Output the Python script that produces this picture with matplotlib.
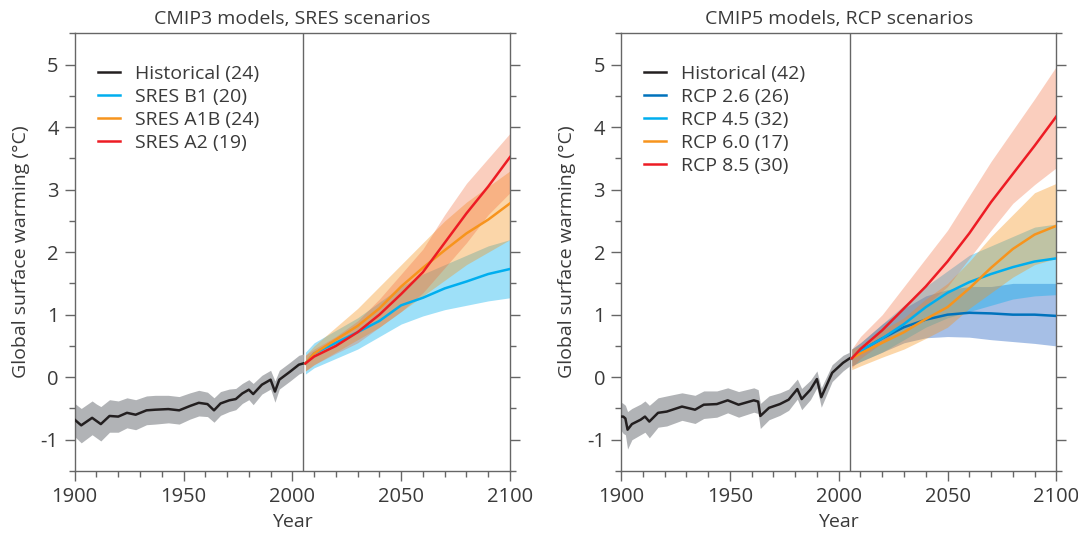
import matplotlib
matplotlib.use("Agg")
import matplotlib.pyplot as plt
from matplotlib.ticker import MultipleLocator

plt.rcParams['font.family'] = ['Open Sans', 'DejaVu Sans']
plt.rcParams['axes.unicode_minus'] = False

text_col = '#3a3a3a'
axis_col = '#666666'

# ---- CMIP3 (left panel) ----
hist3_years = [1900, 1903, 1908, 1910, 1912, 1916, 1920, 1924, 1928, 1933, 1937, 1943, 1948, 1953, 1957,
               1961, 1964, 1967, 1971, 1974, 1977, 1980, 1982, 1986, 1990, 1992, 1994, 1999, 2003, 2005]
hist3_mean = [-0.68, -0.77, -0.65, -0.70, -0.75, -0.62, -0.63, -0.57, -0.60, -0.53, -0.52, -0.51, -0.53, -0.46, -0.41,
              -0.43, -0.53, -0.42, -0.37, -0.35, -0.26, -0.20, -0.27, -0.12, -0.04, -0.23, -0.04, 0.09, 0.20, 0.22]
hist3_hi = [-0.42, -0.50, -0.38, -0.43, -0.47, -0.36, -0.38, -0.33, -0.36, -0.30, -0.29, -0.29, -0.31, -0.25, -0.21,
            -0.24, -0.33, -0.23, -0.19, -0.18, -0.10, -0.04, -0.10, 0.03, 0.11, -0.06, 0.11, 0.24, 0.35, 0.37]
hist3_lo = [-0.95, -1.05, -0.92, -0.97, -1.02, -0.88, -0.88, -0.81, -0.84, -0.76, -0.75, -0.73, -0.75, -0.67, -0.62,
            -0.63, -0.72, -0.61, -0.55, -0.52, -0.42, -0.36, -0.44, -0.27, -0.19, -0.40, -0.19, -0.06, 0.05, 0.08]

proj_years = [2006, 2010, 2020, 2030, 2040, 2050, 2060, 2070, 2080, 2090, 2100]

b1_mean = [0.22, 0.38, 0.55, 0.72, 0.90, 1.15, 1.27, 1.42, 1.53, 1.65, 1.73]
b1_hi = [0.40, 0.55, 0.75, 0.95, 1.20, 1.45, 1.65, 1.80, 1.95, 2.10, 2.20]
b1_lo = [0.05, 0.15, 0.30, 0.45, 0.65, 0.85, 0.98, 1.08, 1.15, 1.22, 1.27]

a1b_mean = [0.22, 0.38, 0.60, 0.82, 1.10, 1.45, 1.75, 2.03, 2.30, 2.52, 2.78]
a1b_hi = [0.35, 0.50, 0.80, 1.10, 1.45, 1.80, 2.15, 2.50, 2.80, 3.05, 3.30]
a1b_lo = [0.10, 0.20, 0.40, 0.60, 0.80, 1.05, 1.30, 1.55, 1.80, 2.00, 2.20]

a2_mean = [0.22, 0.33, 0.50, 0.72, 1.00, 1.33, 1.68, 2.15, 2.62, 3.05, 3.52]
a2_hi = [0.35, 0.45, 0.65, 0.90, 1.25, 1.65, 2.05, 2.60, 3.10, 3.50, 3.90]
a2_lo = [0.10, 0.20, 0.38, 0.55, 0.80, 1.05, 1.35, 1.75, 2.15, 2.60, 2.95]

# ---- CMIP5 (right panel) ----
hist5_years = [1900, 1901, 1902, 1903, 1905, 1909, 1911, 1913, 1917, 1921, 1928, 1934, 1938, 1944, 1949,
               1954, 1961, 1963, 1964, 1968, 1973, 1977, 1981, 1983, 1987, 1990, 1992, 1997, 2002, 2005]
hist5_mean = [-0.63, -0.63, -0.66, -0.84, -0.75, -0.68, -0.63, -0.71, -0.57, -0.55, -0.47, -0.52, -0.44, -0.43, -0.37,
              -0.44, -0.37, -0.39, -0.62, -0.49, -0.43, -0.36, -0.19, -0.35, -0.20, -0.03, -0.32, 0.07, 0.23, 0.30]
hist5_hi = [-0.40, -0.42, -0.45, -0.55, -0.50, -0.43, -0.38, -0.45, -0.33, -0.30, -0.25, -0.29, -0.22, -0.22, -0.17,
            -0.23, -0.17, -0.20, -0.42, -0.30, -0.25, -0.19, -0.03, -0.18, -0.05, 0.10, -0.17, 0.20, 0.35, 0.40]
hist5_lo = [-0.85, -0.90, -0.92, -1.15, -1.00, -0.92, -0.88, -0.97, -0.80, -0.78, -0.69, -0.74, -0.66, -0.64, -0.57,
            -0.64, -0.56, -0.58, -0.82, -0.68, -0.61, -0.53, -0.35, -0.52, -0.36, -0.17, -0.48, -0.07, 0.10, 0.18]

rcp26_mean = [0.30, 0.42, 0.62, 0.80, 0.92, 1.00, 1.03, 1.02, 1.00, 1.00, 0.98]
rcp26_hi = [0.45, 0.55, 0.85, 1.10, 1.30, 1.40, 1.45, 1.45, 1.50, 1.50, 1.50]
rcp26_lo = [0.18, 0.25, 0.40, 0.55, 0.63, 0.65, 0.64, 0.60, 0.57, 0.54, 0.50]

rcp45_mean = [0.30, 0.42, 0.62, 0.85, 1.12, 1.35, 1.52, 1.65, 1.76, 1.85, 1.90]
rcp45_hi = [0.45, 0.55, 0.85, 1.15, 1.45, 1.70, 1.95, 2.10, 2.25, 2.40, 2.45]
rcp45_lo = [0.18, 0.25, 0.40, 0.60, 0.80, 0.95, 1.05, 1.15, 1.25, 1.30, 1.32]

rcp60_mean = [0.30, 0.38, 0.55, 0.72, 0.93, 1.12, 1.42, 1.75, 2.05, 2.28, 2.42]
rcp60_hi = [0.45, 0.50, 0.75, 0.95, 1.25, 1.50, 1.85, 2.25, 2.60, 2.95, 3.10]
rcp60_lo = [0.12, 0.18, 0.32, 0.45, 0.62, 0.80, 1.10, 1.35, 1.60, 1.80, 1.90]

rcp85_mean = [0.30, 0.45, 0.75, 1.10, 1.45, 1.85, 2.30, 2.80, 3.25, 3.70, 4.17]
rcp85_hi = [0.45, 0.65, 1.00, 1.45, 1.90, 2.35, 2.90, 3.45, 3.95, 4.45, 4.97]
rcp85_lo = [0.15, 0.30, 0.55, 0.85, 1.15, 1.45, 1.90, 2.35, 2.78, 3.08, 3.35]

black = '#231f20'
cyan = '#00aeef'
orange = '#f7941d'
red = '#ed1c24'
blue = '#0072bc'

fig = plt.figure(figsize=(10.78, 5.40), dpi=100)
ax1 = fig.add_axes([0.0693, 0.1278, 0.4038, 0.8106])
ax2 = fig.add_axes([0.5761, 0.1278, 0.4038, 0.8106])


def style_axis(ax, title):
    ax.set_xlim(1900, 2100)
    ax.set_ylim(-1.5, 5.5)
    ax.xaxis.set_major_locator(MultipleLocator(50))
    ax.xaxis.set_minor_locator(MultipleLocator(10))
    ax.yaxis.set_major_locator(MultipleLocator(1))
    ax.yaxis.set_minor_locator(MultipleLocator(0.5))
    ax.tick_params(which='both', direction='out', color=axis_col, width=1.0, right=True, top=False)
    ax.tick_params(which='major', length=7.5, labelsize=14.5, labelcolor=text_col, pad=4)
    ax.tick_params(which='minor', length=4)
    for s in ax.spines.values():
        s.set_color(axis_col)
        s.set_linewidth(1.0)
    ax.axvline(2005, color=axis_col, lw=1.0, zorder=1)
    ax.set_title(title, fontsize=14, color=text_col, pad=7)
    ax.set_xlabel('Year', fontsize=14, color=text_col, labelpad=4)
    ax.set_ylabel('Global surface warming (°C)', fontsize=14, color=text_col, labelpad=8)


# left panel
ax1.fill_between(hist3_years, hist3_lo, hist3_hi, color='#b1b3b6', lw=0, zorder=2)
ax1.fill_between(proj_years, b1_lo, b1_hi, color=cyan, alpha=0.38, lw=0, zorder=2)
ax1.fill_between(proj_years, a1b_lo, a1b_hi, color=orange, alpha=0.38, lw=0, zorder=2)
ax1.fill_between(proj_years, a2_lo, a2_hi, color='#f26b3a', alpha=0.33, lw=0, zorder=2)
ax1.plot(hist3_years, hist3_mean, color=black, lw=1.8, label='Historical (24)', zorder=3)
ax1.plot(proj_years, b1_mean, color=cyan, lw=1.8, label='SRES B1 (20)', zorder=3)
ax1.plot(proj_years, a1b_mean, color=orange, lw=1.8, label='SRES A1B (24)', zorder=3)
ax1.plot(proj_years, a2_mean, color=red, lw=1.8, label='SRES A2 (19)', zorder=3)
style_axis(ax1, 'CMIP3 models, SRES scenarios')

# right panel
ax2.fill_between(hist5_years, hist5_lo, hist5_hi, color='#b1b3b6', lw=0, zorder=2)
ax2.fill_between(proj_years, rcp26_lo, rcp26_hi, color='#3a73c8', alpha=0.45, lw=0, zorder=2)
ax2.fill_between(proj_years, rcp45_lo, rcp45_hi, color=cyan, alpha=0.38, lw=0, zorder=2)
ax2.fill_between(proj_years, rcp60_lo, rcp60_hi, color=orange, alpha=0.38, lw=0, zorder=2)
ax2.fill_between(proj_years, rcp85_lo, rcp85_hi, color='#f26b3a', alpha=0.33, lw=0, zorder=2)
ax2.plot(hist5_years, hist5_mean, color=black, lw=1.8, label='Historical (42)', zorder=3)
ax2.plot(proj_years, rcp26_mean, color=blue, lw=1.8, label='RCP 2.6 (26)', zorder=3)
ax2.plot(proj_years, rcp45_mean, color=cyan, lw=1.8, label='RCP 4.5 (32)', zorder=3)
ax2.plot(proj_years, rcp60_mean, color=orange, lw=1.8, label='RCP 6.0 (17)', zorder=3)
ax2.plot(proj_years, rcp85_mean, color=red, lw=1.8, label='RCP 8.5 (30)', zorder=3)
style_axis(ax2, 'CMIP5 models, RCP scenarios')

for ax in [ax1, ax2]:
    leg = ax.legend(loc='upper left', bbox_to_anchor=(0.035, 0.945), frameon=False, fontsize=14,
                    handlelength=1.15, handletextpad=0.75, labelspacing=0.25, borderaxespad=0)
    for t in leg.get_texts():
        t.set_color(text_col)

fig.savefig('out.png', dpi=100)
